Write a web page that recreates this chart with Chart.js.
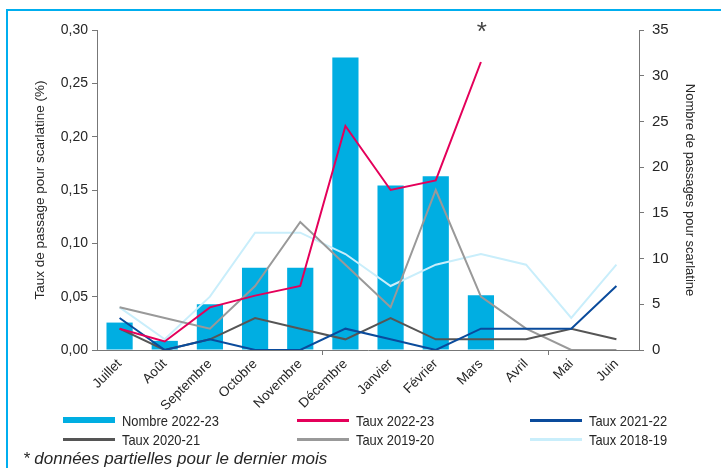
<!DOCTYPE html>
<html lang="fr">
<head>
<meta charset="utf-8">
<script src="https://cdn.jsdelivr.net/npm/chart.js@4.4.1/dist/chart.umd.min.js"></script>
<style>
  html, body { margin: 0; padding: 0; background: #fff; }
  #wrap { position: relative; width: 721px; height: 468px; overflow: hidden; }
  #cadre { position: absolute; left: 6px; top: 9px; right: -10px; bottom: -10px;
           border-left: 2px solid #00AEEF; border-top: 2px solid #00AEEF; }
  #graphique { position: absolute; left: 0; top: 0; }
  .leg { position: absolute; height: 20px; display: flex; align-items: center;
         font-family: 'Liberation Sans', Arial, sans-serif;
         font-size: 15px; color: #262626; white-space: nowrap; }
  .leg span.sw { display: inline-block; width: 52px; margin-right: 7px; }
  .leg span.txt { display: inline-block; transform: scaleX(0.86); transform-origin: left center; }
  #note { position: absolute; left: 23px; top: 449px; font-family: 'Liberation Sans', Arial, sans-serif;
          font-style: italic; font-size: 17px; line-height: 20px; color: #262626; white-space: nowrap; }
</style>
</head>
<body>
<div id="wrap">
  <div id="cadre"></div>
  <canvas id="graphique" width="721" height="468"></canvas>
  <div id="legende"></div>
  <div id="note">* données partielles pour le dernier mois</div>
</div>
<script>
// Données
const mois = ['Juillet', 'Août', 'Septembre', 'Octobre', 'Novembre', 'Décembre',
  'Janvier', 'Février', 'Mars', 'Avril', 'Mai', 'Juin'];
const nombre2223 = [3, 1, 5, 9, 9, 32, 18, 19, 6, null, null, null];
const taux2223 = [0.020, 0.008, 0.040, 0.051, 0.060, 0.210, 0.150, 0.159, 0.270, null, null, null];
const taux2122 = [0.030, 0.000, 0.010, 0.000, 0.000, 0.020, 0.010, 0.000, 0.020, 0.020, 0.020, 0.060];
const taux2021 = [0.020, 0.000, 0.010, 0.030, 0.020, 0.010, 0.030, 0.010, 0.010, 0.010, 0.020, 0.010];
const taux1920 = [0.040, 0.030, 0.020, 0.060, 0.120, 0.080, 0.040, 0.150, 0.050, 0.020, 0.000, 0.000];
const taux1819 = [0.040, 0.010, 0.050, 0.110, 0.110, 0.090, 0.060, 0.080, 0.090, 0.080, 0.030, 0.080];
const ticksTaux = [0, 0.05, 0.10, 0.15, 0.20, 0.25, 0.30];
const ticksNombre = [0, 5, 10, 15, 20, 25, 30, 35];

const police = "'Liberation Sans', Arial, sans-serif";
const gris = '#777777';

function ligne(label, data, couleur, ordre) {
  return {
    type: 'line', label: label, data: data, yAxisID: 'y',
    borderColor: couleur, backgroundColor: couleur, borderWidth: 2,
    pointRadius: 0, tension: 0, order: ordre, spanGaps: false
  };
}

// Astérisque au-dessus du dernier mois renseigné
const asterisque = {
  id: 'asterisque',
  afterDraw(chart) {
    const c = chart.ctx;
    const x = chart.scales.x.getPixelForValue(8);
    c.save();
    c.fillStyle = '#444';
    c.font = '26px ' + police;
    c.textAlign = 'center';
    c.textBaseline = 'alphabetic';
    c.fillText('*', x + 1, chart.chartArea.top + 10);
    c.restore();
  }
};

const chart = new Chart(document.getElementById('graphique'), {
  data: {
    labels: mois,
    datasets: [
      { type: 'bar', label: 'Nombre 2022-23', data: nombre2223, yAxisID: 'y1',
        backgroundColor: '#00AEE2', order: 10, barPercentage: 0.58, categoryPercentage: 1 },
      ligne('Taux 2022-23', taux2223, '#E4005A', 1),
      ligne('Taux 2021-22', taux2122, '#0A4B9C', 2),
      ligne('Taux 2020-21', taux2021, '#555555', 3),
      ligne('Taux 2019-20', taux1920, '#999999', 4),
      ligne('Taux 2018-19', taux1819, '#C9EEFB', 5)
    ]
  },
  options: {
    responsive: false,
    animation: false,
    devicePixelRatio: 1,
    layout: { padding: { top: 30, left: 0, right: 0, bottom: 0 } },
    plugins: { legend: { display: false }, tooltip: { enabled: false } },
    scales: {
      x: {
        offset: true,
        afterFit: s => { s.height = 118; },
        border: { color: gris, width: 1 },
        grid: {
          offset: true, drawOnChartArea: false, tickLength: 5,
          color: c => (c.index === 5 || c.index === 10) ? gris : 'rgba(0,0,0,0)'
        },
        ticks: { autoSkip: false, maxRotation: 45, minRotation: 45, padding: 1,
          color: '#262626', font: { family: police, size: 13.5 } }
      },
      y: {
        position: 'left', min: 0, max: 0.30,
        afterFit: s => { s.width = 97; },
        afterBuildTicks: s => { s.ticks = ticksTaux.map(v => ({ value: v })); },
        border: { color: gris, width: 1 },
        grid: { drawOnChartArea: false, tickLength: 5, color: gris },
        ticks: { padding: 4, color: '#262626', font: { family: police, size: 14 },
          callback: v => v.toFixed(2).replace('.', ',') },
        title: { display: true, text: 'Taux de passage pour scarlatine (%)', color: '#262626',
          font: { family: police, size: 13.5 }, padding: { top: 32 } }
      },
      y1: {
        position: 'right', min: 0, max: 35,
        afterFit: s => { s.width = 82; },
        afterBuildTicks: s => { s.ticks = ticksNombre.map(v => ({ value: v })); },
        border: { color: gris, width: 1 },
        grid: { drawOnChartArea: false, tickLength: 5, color: gris },
        ticks: { padding: 8, color: '#262626', font: { family: police, size: 15 } },
        title: { display: true, text: 'Nombre de passages pour scarlatine', color: '#262626',
          font: { family: police, size: 13 }, padding: { top: 24 } }
      }
    }
  },
  plugins: [asterisque]
});

// Légende sur 3 colonnes, construite à partir des jeux de données
const colonnes = [63, 297, 530];
const lignesY = [410, 429];
const legende = document.getElementById('legende');
chart.data.datasets.forEach((ds, i) => {
  const item = document.createElement('div');
  item.className = 'leg';
  item.style.left = colonnes[i % 3] + 'px';
  item.style.top = lignesY[Math.floor(i / 3)] + 'px';
  const sw = document.createElement('span');
  sw.className = 'sw';
  sw.style.height = ds.type === 'bar' ? '6px' : '3px';
  sw.style.background = ds.type === 'bar' ? ds.backgroundColor : ds.borderColor;
  const txt = document.createElement('span');
  txt.className = 'txt';
  txt.textContent = ds.label;
  item.appendChild(sw);
  item.appendChild(txt);
  legende.appendChild(item);
});
</script>
</body>
</html>
